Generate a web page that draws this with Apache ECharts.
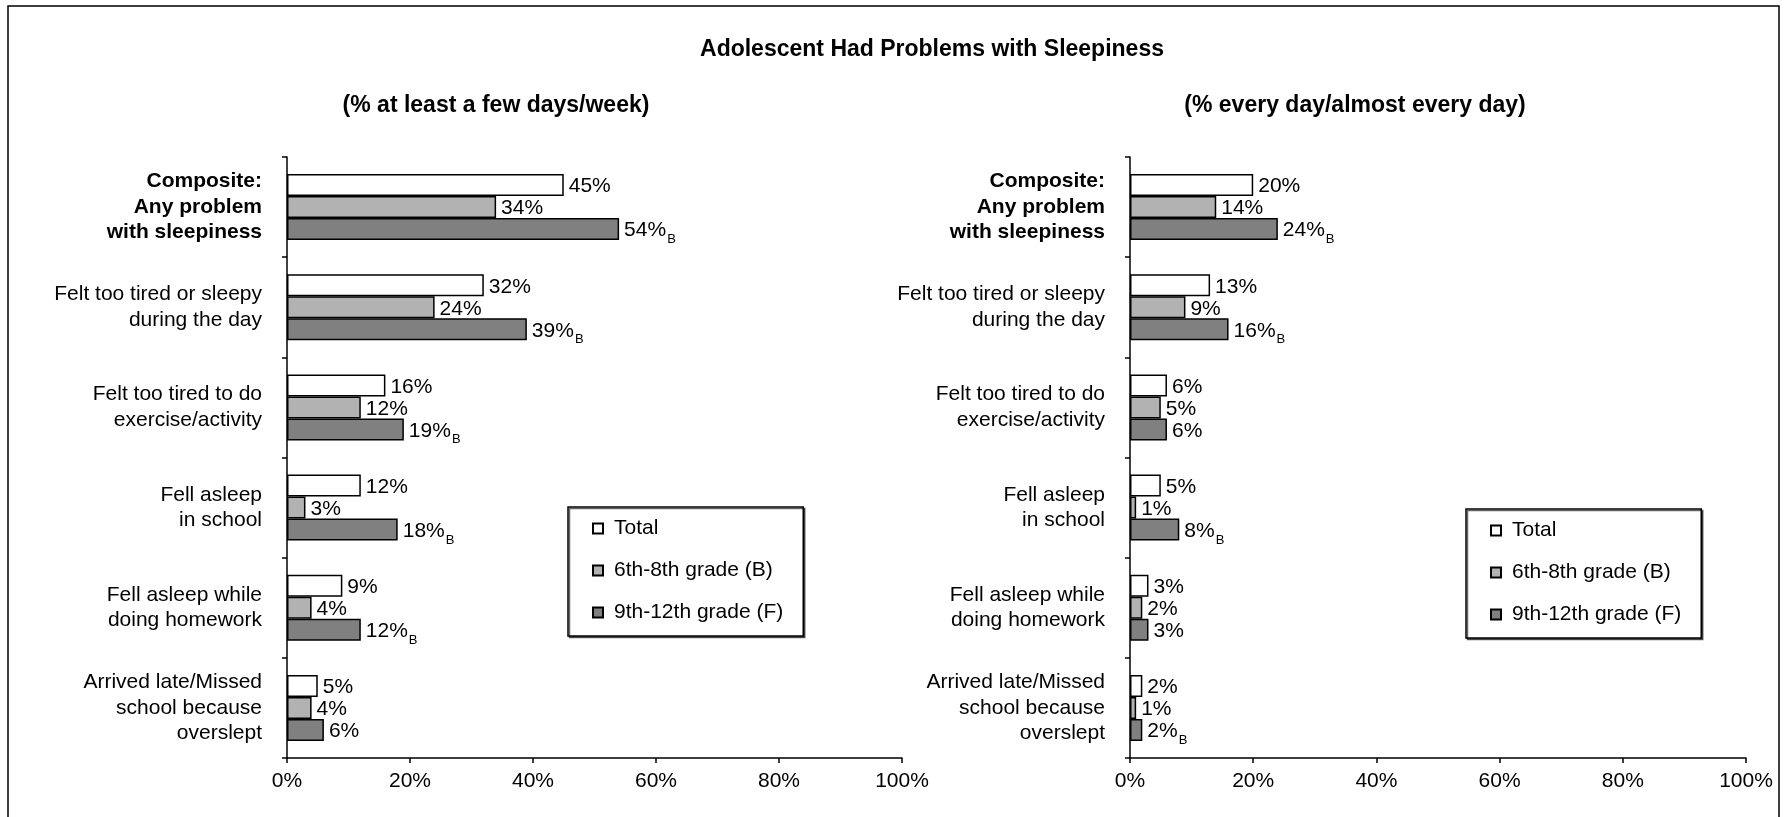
<!DOCTYPE html>
<html>
<head>
<meta charset="utf-8">
<script src="https://cdn.jsdelivr.net/npm/echarts@6/dist/echarts.min.js"></script>
<style>
  html, body { margin: 0; padding: 0; background: #fff; }
  #chart { width: 1786px; height: 817px; }
</style>
</head>
<body>
<div id="chart"></div>
<script>
// categories (top to bottom)
var categories = [
  "Composite:\nAny problem\nwith sleepiness",
  "Felt too tired or sleepy\nduring the day",
  "Felt too tired to do\nexercise/activity",
  "Fell asleep\nin school",
  "Fell asleep while\ndoing homework",
  "Arrived late/Missed\nschool because\noverslept"
];
var seriesNames = ["Total", "6th-8th grade (B)", "9th-12th grade (F)"];
var xTicks = [0, 20, 40, 60, 80, 100];

// % at least a few days/week
var weekTotal = [45, 32, 16, 12, 9, 5];
var weekMiddle = [34, 24, 12, 3, 4, 4];
var weekHigh = [54, 39, 19, 18, 12, 6];
var weekHighSigB = [1, 1, 1, 1, 1, 0];

// % every day/almost every day
var dayTotal = [20, 13, 6, 5, 3, 2];
var dayMiddle = [14, 9, 5, 1, 2, 1];
var dayHigh = [24, 16, 6, 8, 3, 2];
var dayHighSigB = [1, 1, 0, 1, 0, 1];

var colors = ["#ffffff", "#b2b2b2", "#808080"];
var font = "'Liberation Sans', Arial, sans-serif";

var chart = echarts.init(document.getElementById("chart"));

function yAxisFor(gridIndex) {
  return {
    type: "category",
    gridIndex: gridIndex,
    inverse: true,
    data: categories,
    axisLine: { lineStyle: { color: "#000", width: 1.5 } },
    axisTick: { show: true, length: 5, lineStyle: { color: "#000", width: 1.5 } },
    axisLabel: {
      margin: 25,
      color: "#000",
      fontFamily: font,
      fontSize: 21,
      lineHeight: 25.5,
      align: "right",
      formatter: function(val, idx) {
        if (idx === 0) {
          return val.split("\n").map(function(s) { return "{b|" + s + "}"; }).join("\n");
        }
        return val;
      },
      rich: {
        b: { fontWeight: "bold", fontSize: 21, lineHeight: 25.5, fontFamily: font, color: "#000" }
      }
    }
  };
}

function xAxisFor(gridIndex) {
  return {
    type: "value",
    gridIndex: gridIndex,
    min: xTicks[0],
    max: xTicks[xTicks.length - 1],
    interval: xTicks[1] - xTicks[0],
    splitLine: { show: false },
    axisLine: { show: true, lineStyle: { color: "#000", width: 1.5 } },
    axisTick: { show: true, length: 5, lineStyle: { color: "#000", width: 1.5 } },
    axisLabel: {
      margin: 13,
      color: "#000",
      fontFamily: font,
      fontSize: 21,
      formatter: "{value}%"
    }
  };
}

function barSeries(name, idx, gridIndex, values, sigB) {
  return {
    name: name,
    type: "bar",
    xAxisIndex: gridIndex,
    yAxisIndex: gridIndex,
    data: values,
    barWidth: 22,
    barGap: "0%",
    itemStyle: { color: colors[idx], borderColor: "#000", borderWidth: 1.5 },
    label: {
      show: true,
      position: "right",
      distance: 5,
      offset: [0, 4],
      formatter: function(p) {
        var txt = "{v|" + p.value + "%}";
        if (sigB && sigB[p.dataIndex]) txt += "{s|B}";
        return txt;
      },
      rich: {
        v: { fontSize: 21, fontFamily: font, color: "#000", verticalAlign: "bottom", padding: [0, 0, 5, 0] },
        s: { fontSize: 13, fontFamily: font, color: "#000", verticalAlign: "bottom", padding: [0, 0, 0, 1] }
      }
    }
  };
}

function legendAt(left, top) {
  return {
    orient: "vertical",
    left: left,
    top: top,
    data: seriesNames,
    icon: "rect",
    itemWidth: 10,
    itemHeight: 10,
    itemGap: 21,
    padding: [11, 20, 13, 24],
    backgroundColor: "#fff",
    borderColor: "#000",
    borderWidth: 1.5,
    shadowColor: "rgba(0,0,0,0.6)",
    shadowOffsetX: 1.5,
    shadowOffsetY: 1.5,
    shadowBlur: 0,
    selectedMode: false,
    textStyle: { fontFamily: font, fontSize: 21, color: "#000", padding: [0, 0, 0, 6] }
  };
}

var option = {
  backgroundColor: "#fff",
  animation: false,
  title: [
    {
      text: "Adolescent Had Problems with Sleepiness",
      left: 927,
      top: 33,
      textAlign: "center",
      textStyle: { fontFamily: font, fontSize: 23, fontWeight: "bold", color: "#000" }
    },
    {
      text: "(% at least a few days/week)",
      left: 491,
      top: 89,
      textAlign: "center",
      textStyle: { fontFamily: font, fontSize: 23, fontWeight: "bold", color: "#000" }
    },
    {
      text: "(% every day/almost every day)",
      left: 1350,
      top: 89,
      textAlign: "center",
      textStyle: { fontFamily: font, fontSize: 23, fontWeight: "bold", color: "#000" }
    }
  ],
  legend: [legendAt(568, 507), legendAt(1466, 509)],
  grid: [
    { left: 287, top: 157, width: 615, height: 601 },
    { left: 1130, top: 157, width: 616, height: 601 }
  ],
  xAxis: [xAxisFor(0), xAxisFor(1)],
  yAxis: [yAxisFor(0), yAxisFor(1)],
  series: [
    barSeries(seriesNames[0], 0, 0, weekTotal, null),
    barSeries(seriesNames[1], 1, 0, weekMiddle, null),
    barSeries(seriesNames[2], 2, 0, weekHigh, weekHighSigB),
    barSeries(seriesNames[0], 0, 1, dayTotal, null),
    barSeries(seriesNames[1], 1, 1, dayMiddle, null),
    barSeries(seriesNames[2], 2, 1, dayHigh, dayHighSigB)
  ],
  graphic: [
    {
      type: "rect",
      silent: true,
      z: -1,
      shape: { x: 8, y: 6, width: 1771, height: 860 },
      style: { fill: null, stroke: "#000", lineWidth: 1.5 }
    }
  ]
};

chart.setOption(option);
</script>
</body>
</html>
